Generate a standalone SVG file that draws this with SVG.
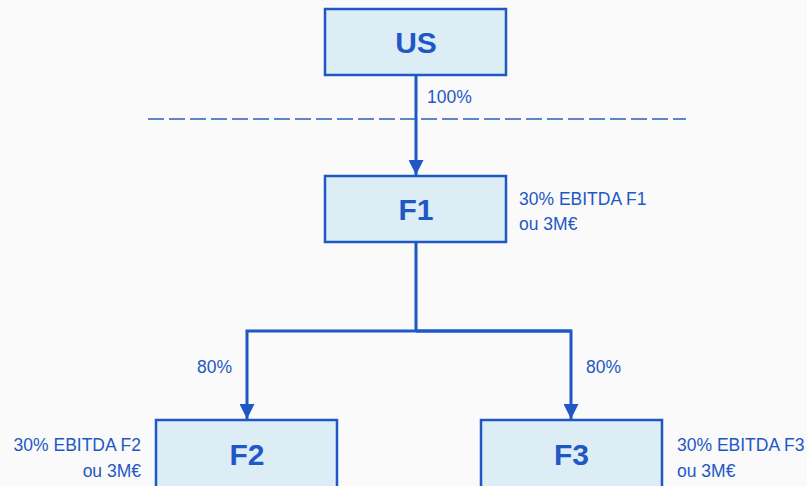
<svg xmlns="http://www.w3.org/2000/svg" width="807" height="486" viewBox="0 0 807 486">
  <defs>
    <marker id="arrow" viewBox="0 0 10 10" refX="10" refY="5" markerWidth="5" markerHeight="5" markerUnits="strokeWidth" orient="auto">
      <path d="M0,0 L10,5 L0,10 z" fill="#1F58C4"/>
    </marker>
    <style>
      .box { fill: #DCEDF5; stroke: #1F58C4; stroke-width: 2.5; }
      .title { font-family: "Liberation Sans", Arial, sans-serif; font-weight: bold; font-size: 30px; fill: #1F58C4; text-anchor: middle; }
      .lbl { font-family: "Liberation Sans", Arial, sans-serif; font-size: 17.5px; fill: #1F58C4; }
      .wire { fill: none; stroke: #1F58C4; stroke-width: 3; }
      .sep { stroke: #5B87C8; stroke-width: 2; stroke-dasharray: 16 5; }
    </style>
  </defs>
  <rect width="807" height="486" fill="#FAFAFA"/>

  <line class="sep" x1="148" y1="119" x2="686" y2="119"/>

  <g id="connectors">
    <line class="wire" x1="416" y1="76" x2="416" y2="175" marker-end="url(#arrow)"/>
    <path class="wire" d="M416,243 V331"/>
    <path class="wire" d="M571,331 H247 V419" marker-end="url(#arrow)"/>
    <path class="wire" d="M416,331 H571 V419" marker-end="url(#arrow)"/>
    <text class="lbl" x="427" y="103">100%</text>
    <text class="lbl" x="197" y="373">80%</text>
    <text class="lbl" x="586" y="373">80%</text>
  </g>

  <g id="US">
    <rect class="box" x="325" y="9" width="181" height="66"/>
    <text class="title" x="416" y="52.5">US</text>
  </g>

  <g id="F1">
    <rect class="box" x="325" y="176" width="181" height="66"/>
    <text class="title" x="416" y="220">F1</text>
    <text class="lbl" x="519" y="205">30% EBITDA F1</text>
    <text class="lbl" x="519" y="230">ou 3M€</text>
  </g>

  <g id="F2">
    <rect class="box" x="156" y="420" width="181" height="80"/>
    <text class="title" x="247" y="465">F2</text>
    <text class="lbl" x="141" y="451" text-anchor="end">30% EBITDA F2</text>
    <text class="lbl" x="141" y="477" text-anchor="end">ou 3M€</text>
  </g>

  <g id="F3">
    <rect class="box" x="481" y="420" width="181" height="80"/>
    <text class="title" x="571.5" y="465">F3</text>
    <text class="lbl" x="677" y="451">30% EBITDA F3</text>
    <text class="lbl" x="677" y="477">ou 3M€</text>
  </g>
</svg>
